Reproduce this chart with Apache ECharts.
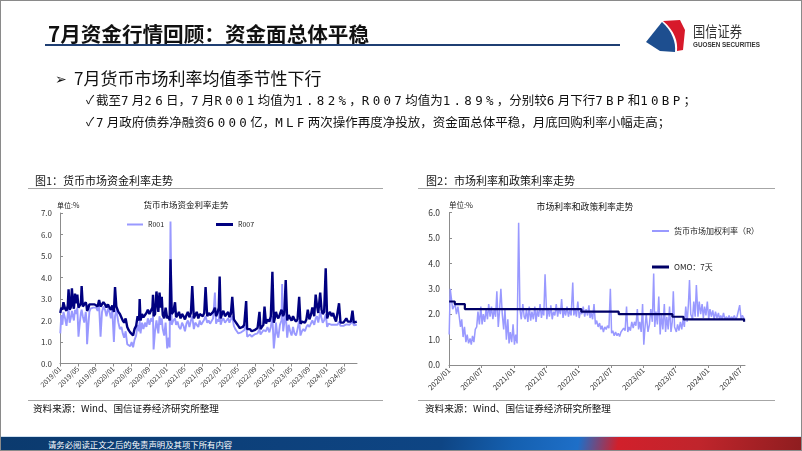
<!DOCTYPE html>
<html><head><meta charset="utf-8">
<script src="https://cdn.jsdelivr.net/npm/echarts@6/dist/echarts.min.js"></script>
<style>
html,body{margin:0;padding:0;background:#fff;}
#slide{position:relative;width:802px;height:451px;overflow:hidden;background:#fff;font-family:"Noto Sans CJK SC",sans-serif;}
#chart{position:absolute;left:0;top:0;width:802px;height:451px;}
.t{position:absolute;white-space:nowrap;color:#111;}
.ck{font-size:12.5px;line-height:15px;}
.m{font-family:"DejaVu Sans Mono",monospace;font-size:12.5px;letter-spacing:3.3px;}
.hl{position:absolute;height:1px;background:#a6a6a6;}
#border{position:absolute;left:0;top:0;width:802px;height:451px;box-sizing:border-box;border:1px solid #8a8a8a;pointer-events:none;}
</style></head>
<body><div id="slide">
<div id="chart"></div>
<div class="t" style="left:48px;top:22px;font-size:20.6px;line-height:22px;font-weight:bold;">7月资金行情回顾：资金面总体平稳</div>
<div style="position:absolute;left:45px;top:44px;width:575px;height:2px;background:#1f3f73;"></div>
<svg style="position:absolute;left:640px;top:15px" width="125" height="42" viewBox="0 0 125 42">
 <path d="M23 6 L40 5 L45 15 L43 35 L37 36 C38 27 35 16 23 6 Z" fill="#d7192a"/>
 <path d="M6 27 L22 7 C32 16 36 27 35 37 L20 36 Z" fill="#1d4e8f"/>
 <text x="53" y="22" font-size="15" textLength="49" lengthAdjust="spacingAndGlyphs" font-family="Noto Sans CJK SC" fill="#333">国信证券</text>
 <text x="53" y="32" font-size="6.5" font-weight="bold" textLength="67" lengthAdjust="spacingAndGlyphs" font-family="Liberation Sans" fill="#333">GUOSEN SECURITIES</text>
</svg>
<div class="t" style="left:55px;top:70px;font-size:14px;line-height:16px;">➢</div>
<div class="t" style="left:74px;top:69px;font-size:17px;line-height:18px;">7月货币市场利率均值季节性下行</div>
<div class="t" style="left:86px;top:92px;font-size:12px;line-height:14px;">✓</div>
<div class="t ck" style="left:96px;top:92px;">截至<span class="m">7</span>月<span class="m">26</span>日，<span class="m">7</span>月<span class="m">R001</span>均值为<span class="m">1.82%</span>，<span class="m">R007</span>均值为<span class="m">1.89%</span>，分别较<span class="m">6</span>月下行<span class="m">7BP</span>和<span class="m">10BP</span>；</div>
<div class="t" style="left:86px;top:114px;font-size:12px;line-height:14px;">✓</div>
<div class="t ck" style="left:96px;top:114px;"><span class="m">7</span>月政府债券净融资<span class="m">6000</span>亿，<span class="m">MLF</span>两次操作再度净投放，资金面总体平稳，月底回购利率小幅走高；</div>
<div class="t" style="left:35px;top:174px;font-size:11px;line-height:13px;">图1：货币市场资金利率走势</div>
<div class="t" style="left:426px;top:174px;font-size:11px;line-height:13px;">图2：市场利率和政策利率走势</div>
<div class="hl" style="left:28px;top:188px;width:355px;"></div>
<div class="hl" style="left:418px;top:188px;width:357px;"></div>
<div class="hl" style="left:28px;top:400px;width:355px;"></div>
<div class="hl" style="left:418px;top:400px;width:357px;"></div>
<div class="t" style="left:33px;top:402px;font-size:9.6px;line-height:12px;">资料来源：Wind、国信证券经济研究所整理</div>
<div class="t" style="left:425px;top:402px;font-size:9.6px;line-height:12px;">资料来源：Wind、国信证券经济研究所整理</div>
<div style="position:absolute;left:0;top:436px;width:802px;height:1px;background:#cfe0f0;"></div>
<div style="position:absolute;left:0;top:437px;width:802px;height:14px;background:linear-gradient(100deg,#0b3a6e 0%,#0e4584 55%,#1560b0 64%,#1e6fc8 72%,#d1202b 77%,#c0252c 87%,#8e1d1f 100%);"></div>
<div class="t" style="left:48px;top:439px;font-size:8.4px;line-height:10px;color:#fff;">请务必阅读正文之后的免责声明及其项下所有内容</div>
<div id="border"></div>
</div>
<script>
// ---------- Figure 1: R001 / R007 ----------
const dates1 = [
'2019/01/03','2019/01/10','2019/01/18','2019/01/25',
'2019/02/05','2019/02/14','2019/02/22','2019/02/27',
'2019/03/06','2019/03/14','2019/03/22','2019/03/29',
'2019/04/05','2019/04/12','2019/04/20','2019/04/28',
'2019/05/06','2019/05/15','2019/05/23','2019/05/28',
'2019/06/05','2019/06/15','2019/06/25','2019/06/30',
'2019/07/04','2019/07/12','2019/07/20','2019/07/28',
'2019/08/05','2019/08/15','2019/08/25',
'2019/09/05','2019/09/15','2019/09/25',
'2019/10/05','2019/10/15','2019/10/25',
'2019/11/05','2019/11/15','2019/11/25',
'2019/12/05','2019/12/15','2019/12/25',
'2020/01/05','2020/01/13','2020/01/22',
'2020/02/05','2020/02/15','2020/02/25',
'2020/03/05','2020/03/15','2020/03/25',
'2020/04/05','2020/04/15','2020/04/25',
'2020/05/05','2020/05/15','2020/05/25',
'2020/06/05','2020/06/15','2020/06/25','2020/06/29',
'2020/07/05','2020/07/15','2020/07/25',
'2020/08/05','2020/08/15','2020/08/25',
'2020/09/05','2020/09/15','2020/09/25','2020/09/29',
'2020/10/03','2020/10/13','2020/10/23',
'2020/11/05','2020/11/13','2020/11/22','2020/11/28',
'2020/12/05','2020/12/15','2020/12/25',
'2021/01/05','2021/01/15','2021/01/22','2021/01/28',
'2021/02/05','2021/02/15','2021/02/26',
'2021/03/05','2021/03/15','2021/03/25',
'2021/04/05','2021/04/15','2021/04/25',
'2021/05/05','2021/05/15','2021/05/25',
'2021/06/05','2021/06/15','2021/06/24',
'2021/07/05','2021/07/15','2021/07/25',
'2021/08/05','2021/08/15','2021/08/25',
'2021/09/05','2021/09/15','2021/09/24',
'2021/10/05','2021/10/15','2021/10/25',
'2021/11/05','2021/11/15','2021/11/27',
'2021/12/05','2021/12/15','2021/12/24','2021/12/30',
'2022/01/06','2022/01/15','2022/01/25',
'2022/02/05','2022/02/15','2022/02/25',
'2022/03/05','2022/03/15','2022/03/25',
'2022/04/05','2022/04/15','2022/04/25',
'2022/05/05','2022/05/15','2022/05/25',
'2022/06/05','2022/06/15','2022/06/28',
'2022/07/05','2022/07/15','2022/07/25',
'2022/08/05','2022/08/15','2022/08/25',
'2022/09/05','2022/09/15','2022/09/28',
'2022/10/05','2022/10/15','2022/10/25',
'2022/11/02','2022/11/12','2022/11/22',
'2022/12/05','2022/12/15','2022/12/26',
'2023/01/05','2023/01/12','2023/01/20','2023/01/28',
'2023/02/05','2023/02/15','2023/02/25','2023/03/01',
'2023/03/08','2023/03/16','2023/03/26',
'2023/04/05','2023/04/15','2023/04/25',
'2023/05/05','2023/05/15','2023/05/25',
'2023/06/05','2023/06/15','2023/06/26',
'2023/07/05','2023/07/15','2023/07/25',
'2023/08/05','2023/08/15','2023/08/25',
'2023/09/05','2023/09/15','2023/09/25',
'2023/10/08','2023/10/18','2023/10/27',
'2023/11/05','2023/11/18','2023/11/27',
'2023/12/05','2023/12/15','2023/12/26',
'2024/01/05','2024/01/15','2024/01/25',
'2024/02/05','2024/02/15','2024/02/25',
'2024/03/05','2024/03/15','2024/03/26',
'2024/04/05','2024/04/15','2024/04/25',
'2024/05/05','2024/05/15','2024/05/25',
'2024/06/05','2024/06/15','2024/06/26',
'2024/07/05','2024/07/15','2024/07/26'
];
const r001 = [
1.40,2.25,1.80,2.40,
2.10,1.75,2.30,2.60,
1.90,2.10,2.45,2.20,
2.00,2.50,2.30,2.60,
1.25,1.90,2.35,2.50,
2.20,1.90,2.40,2.00,
0.90,1.70,2.40,2.55,
2.50,2.60,2.55,
2.60,2.45,2.70,
1.25,2.40,2.65,
2.50,2.20,2.55,
2.40,2.10,2.50,
1.00,2.20,2.50,
1.90,1.60,1.70,
1.40,1.20,1.50,
0.90,0.85,0.80,
1.00,0.75,1.10,
1.30,1.80,1.50,2.00,
1.40,1.90,1.60,
1.90,1.70,2.10,
1.80,2.10,1.95,2.20,
0.65,1.50,2.00,
1.40,2.20,1.80,2.10,
1.60,1.30,1.90,
0.70,1.20,0.75,6.60,
1.80,2.00,2.10,
1.80,1.95,1.70,
1.60,1.90,1.75,
1.50,1.85,2.00,
1.70,2.00,2.20,
1.60,1.90,1.85,
1.70,2.00,1.80,
1.85,2.05,2.20,
1.90,2.00,1.85,
1.90,2.10,3.30,
1.85,2.05,1.95,2.60,
1.80,2.00,2.10,
1.90,2.00,2.10,
1.90,2.05,2.20,
1.75,1.60,1.50,
1.40,1.35,1.45,
1.40,1.55,1.80,
1.25,1.30,1.35,
1.25,1.20,1.35,
1.30,1.40,1.60,
1.35,1.40,1.55,
1.60,1.50,1.70,
1.45,1.70,2.20,
0.70,1.20,1.90,1.40,
1.20,1.80,2.00,3.70,
1.50,1.90,2.30,
1.20,1.80,1.50,
1.30,1.70,1.40,
1.30,1.60,2.00,
1.30,1.50,1.60,
1.50,1.70,1.80,
1.70,1.85,2.00,
1.80,2.10,2.20,
1.90,2.40,2.10,
1.90,2.00,2.30,
1.70,1.85,1.90,
1.80,1.85,1.80,
1.75,1.80,1.95,
1.75,1.80,1.75,
1.78,1.82,1.80,
1.80,1.85,1.95,
1.78,1.80,1.80
];
const r007 = [
2.35,2.60,2.50,2.85,
2.55,2.45,2.70,3.45,
2.50,2.60,3.50,2.75,
2.55,3.25,2.80,3.20,
2.60,2.55,2.80,3.60,
2.65,2.60,2.85,2.70,
2.45,2.55,2.75,2.80,
2.75,2.80,2.75,
2.70,2.65,2.95,
2.65,2.70,2.85,
2.75,2.60,2.75,
2.60,2.50,2.70,
2.40,3.55,2.65,
2.40,2.30,2.25,
2.00,1.90,2.10,
1.70,1.55,1.45,
1.45,1.30,1.60,
1.75,2.20,2.00,3.00,
2.00,2.30,2.15,
2.20,2.35,2.50,
2.30,2.45,2.60,3.20,
2.20,2.30,3.35,
2.40,3.30,2.60,3.10,
2.25,2.10,2.60,
2.10,2.20,2.00,4.85,
2.30,2.40,2.85,
2.15,2.25,2.40,
2.10,2.30,2.20,
2.05,2.25,2.40,
2.15,2.35,3.60,
2.10,2.25,2.40,
2.10,2.30,2.25,
2.20,2.35,3.55,
2.20,2.35,2.25,
2.20,2.40,2.60,
2.20,2.35,2.60,4.05,
2.10,2.30,2.45,
2.20,2.25,2.40,
2.15,2.30,3.10,
2.05,1.95,1.85,
1.75,1.65,1.70,
1.70,1.80,2.90,
1.60,1.55,1.60,
1.50,1.45,1.55,
1.55,1.65,2.40,
1.60,1.70,1.80,
2.65,1.85,2.05,
1.95,2.20,4.27,
1.90,2.10,2.40,2.20,
2.10,2.30,2.50,2.40,
2.20,2.35,3.88,
2.00,2.25,2.10,
2.00,2.20,2.05,
1.95,2.05,3.10,
1.85,1.95,2.00,
1.90,2.05,2.50,
2.05,2.25,2.60,
2.20,3.20,2.70,
2.35,3.30,2.50,
2.30,2.40,4.43,
2.10,2.30,2.40,
2.20,2.35,2.10,
1.95,2.00,2.80,
1.90,1.95,1.90,
1.92,2.10,1.95,
1.90,1.95,2.46,
1.90,1.88,1.95
];
const xLabels1 = ['2019/01','2019/05','2019/09','2020/01','2020/05','2020/09','2021/01','2021/05','2021/09','2022/01','2022/05','2022/09','2023/01','2023/05','2023/09','2024/01','2024/05'];

// ---------- Figure 2: market rate vs OMO ----------
const dates2 = [
'2020/01/02','2020/01/08','2020/01/15','2020/01/22',
'2020/02/05','2020/02/12','2020/02/20','2020/02/27',
'2020/03/05','2020/03/12','2020/03/20','2020/03/28',
'2020/04/05','2020/04/12','2020/04/20','2020/04/28',
'2020/05/05','2020/05/12','2020/05/20','2020/05/28',
'2020/06/05','2020/06/12','2020/06/20','2020/06/28',
'2020/07/05','2020/07/12','2020/07/20','2020/07/28',
'2020/08/05','2020/08/12','2020/08/20','2020/08/28',
'2020/09/05','2020/09/12','2020/09/20','2020/09/27',
'2020/10/05','2020/10/12','2020/10/20','2020/10/28',
'2020/11/05','2020/11/12','2020/11/20','2020/11/28',
'2020/12/05','2020/12/12','2020/12/20','2020/12/28',
'2021/01/05','2021/01/12','2021/01/20','2021/01/29',
'2021/02/05','2021/02/12','2021/02/20','2021/02/27',
'2021/03/05','2021/03/12','2021/03/20','2021/03/28',
'2021/04/05','2021/04/12','2021/04/20','2021/04/28',
'2021/05/05','2021/05/12','2021/05/20','2021/05/28',
'2021/06/05','2021/06/12','2021/06/18','2021/06/25',
'2021/07/05','2021/07/12','2021/07/20','2021/07/28',
'2021/08/05','2021/08/12','2021/08/20','2021/08/28',
'2021/09/05','2021/09/12','2021/09/20','2021/09/27',
'2021/10/05','2021/10/12','2021/10/20','2021/10/28',
'2021/11/05','2021/11/12','2021/11/20','2021/11/29',
'2021/12/05','2021/12/12','2021/12/20','2021/12/28',
'2022/01/05','2022/01/12','2022/01/20','2022/01/28',
'2022/02/05','2022/02/12','2022/02/20','2022/02/27',
'2022/03/05','2022/03/12','2022/03/20','2022/03/28',
'2022/04/05','2022/04/12','2022/04/20','2022/04/28',
'2022/05/05','2022/05/12','2022/05/20','2022/05/28',
'2022/06/05','2022/06/12','2022/06/20','2022/06/28',
'2022/07/05','2022/07/12','2022/07/20','2022/07/28',
'2022/08/05','2022/08/12','2022/08/20','2022/08/28',
'2022/09/05','2022/09/12','2022/09/20','2022/09/28',
'2022/10/05','2022/10/12','2022/10/20','2022/10/28',
'2022/11/05','2022/11/12','2022/11/20','2022/11/28',
'2022/12/05','2022/12/12','2022/12/20','2022/12/28',
'2023/01/04','2023/01/10','2023/01/18','2023/01/28',
'2023/02/05','2023/02/12','2023/02/20','2023/02/27',
'2023/03/05','2023/03/12','2023/03/20','2023/03/28',
'2023/04/05','2023/04/12','2023/04/20','2023/04/28',
'2023/05/05','2023/05/12','2023/05/20','2023/05/28',
'2023/06/05','2023/06/12','2023/06/18','2023/06/25',
'2023/07/05','2023/07/12','2023/07/20','2023/07/28',
'2023/08/05','2023/08/12','2023/08/20','2023/08/28',
'2023/09/05','2023/09/12','2023/09/18','2023/09/25',
'2023/10/05','2023/10/12','2023/10/20','2023/10/27',
'2023/11/05','2023/11/12','2023/11/20','2023/11/28',
'2023/12/05','2023/12/12','2023/12/20','2023/12/28',
'2024/01/05','2024/01/12','2024/01/20','2024/01/28',
'2024/02/05','2024/02/12','2024/02/20','2024/02/28',
'2024/03/05','2024/03/12','2024/03/20','2024/03/28',
'2024/04/05','2024/04/12','2024/04/20','2024/04/28',
'2024/05/05','2024/05/12','2024/05/20','2024/05/28',
'2024/06/05','2024/06/12','2024/06/20','2024/06/27',
'2024/07/05','2024/07/12','2024/07/20','2024/07/26'
];
const marketRate = [
1.20,3.00,2.60,2.20,
2.40,2.00,2.30,1.90,
1.50,1.80,1.10,1.50,
0.90,1.20,0.85,1.05,
0.80,1.15,0.90,1.40,
1.50,2.10,1.60,2.30,
1.60,2.00,1.70,2.20,
1.80,2.40,1.90,2.30,
1.80,2.20,1.90,2.90,
1.50,2.10,3.00,2.00,
1.40,2.20,1.00,1.80,
0.85,1.30,0.90,1.60,
0.80,1.20,0.85,5.60,
2.20,1.80,2.40,1.90,
1.80,2.20,1.70,2.30,
1.75,2.10,1.80,2.30,
1.70,2.15,1.90,2.40,
1.85,2.20,1.95,3.57,
1.80,2.25,1.90,2.35,
1.80,2.10,1.95,2.40,
1.90,2.25,2.00,2.60,
1.85,2.20,1.95,2.30,
1.90,2.15,1.95,3.25,
1.95,2.20,1.90,2.50,
1.85,2.10,2.00,2.30,
1.90,2.20,1.95,2.35,
1.85,2.05,1.80,2.40,
1.60,1.75,1.50,1.65,
1.40,1.55,1.30,1.50,
1.40,1.55,1.45,3.00,
1.25,1.35,1.15,1.30,
1.15,1.25,1.12,1.30,
1.25,1.45,1.35,2.30,
1.30,1.50,1.35,1.70,
1.45,1.70,1.55,2.20,
1.40,1.70,1.30,2.40,
0.80,1.40,2.00,1.30,
1.60,2.20,1.70,3.60,
1.50,2.10,1.60,2.70,
1.20,2.00,1.40,2.40,
1.30,1.90,1.40,2.30,
1.30,1.70,2.90,1.50,
1.30,1.60,1.35,1.70,
1.40,1.80,1.50,2.30,
1.70,2.40,3.35,2.00,
1.80,2.50,1.90,3.15,
1.90,2.50,2.00,2.40,
1.85,2.30,1.95,2.50,
1.80,2.20,1.90,2.15,
1.80,2.10,1.85,2.05,
1.80,1.95,1.80,2.05,
1.78,1.90,1.80,1.95,
1.78,1.90,1.82,1.95,
1.80,1.90,1.85,2.36,
1.80,1.95,1.85,1.80
];
const omoDates = ['2020/01/02','2020/02/03','2020/03/30','2022/01/17','2022/08/15','2023/06/13','2023/08/15','2024/07/22','2024/07/26'];
const omoValues = [2.50,2.40,2.20,2.10,2.00,1.90,1.80,1.70,1.70];
const xLabels2 = ['2020/01','2020/07','2021/01','2021/07','2022/01','2022/07','2023/01','2023/07','2024/01','2024/07'];

// ---------- helpers ----------
function monthsSince(s, baseYear){
  const p = s.split('/').map(Number);
  const dim = new Date(p[0], p[1], 0).getDate();
  return (p[0]-baseYear)*12 + (p[1]-1) + (p[2]-1)/dim;
}
function pairs(dates, vals, baseYear){
  const n = Math.min(dates.length, vals.length);
  const out = [];
  for (let i=0;i<n;i++) out.push([monthsSince(dates[i], baseYear), vals[i]]);
  return out;
}

const FONT = '"Noto Sans CJK SC", sans-serif';
const axisGray = '#8c8c8c';
const chart = echarts.init(document.getElementById('chart'), null, {renderer:'canvas'});
const option = {
  animation:false,
  textStyle:{fontFamily:FONT},
  grid:[
    {left:60, top:213, width:297, height:150.5, containLabel:false},
    {left:449, top:212.6, width:296, height:152.4, containLabel:false}
  ],
  xAxis:[
    {gridIndex:0, type:'value', min:0, max:66.85, interval:4,
     axisLine:{lineStyle:{color:axisGray}}, axisTick:{length:3, lineStyle:{color:axisGray}},
     splitLine:{show:false},
     axisLabel:{rotate:45, fontSize:7, color:'#333', margin:4, showMaxLabel:false,
       formatter:v=>{const k=Math.round(v/4); return Math.abs(v-4*k)<1e-6 && k<xLabels1.length ? xLabels1[k] : '';}}},
    {gridIndex:1, type:'value', min:0, max:54.85, interval:6,
     axisLine:{lineStyle:{color:axisGray}}, axisTick:{length:3, lineStyle:{color:axisGray}},
     splitLine:{show:false},
     axisLabel:{rotate:45, fontSize:7.5, color:'#333', margin:4, showMaxLabel:false,
       formatter:v=>{const k=Math.round(v/6); return Math.abs(v-6*k)<1e-6 && k<xLabels2.length ? xLabels2[k] : '';}}}
  ],
  yAxis:[
    {gridIndex:0, type:'value', min:0, max:7, interval:1,
     axisLine:{show:true, lineStyle:{color:axisGray}}, axisTick:{show:true, inside:true, length:3, lineStyle:{color:axisGray}},
     splitLine:{show:false},
     axisLabel:{fontSize:8, color:'#333', margin:8, formatter:v=>v.toFixed(1)}},
    {gridIndex:1, type:'value', min:0, max:6, interval:1,
     axisLine:{show:true, lineStyle:{color:axisGray}}, axisTick:{show:true, inside:true, length:3, lineStyle:{color:axisGray}},
     splitLine:{show:false},
     axisLabel:{fontSize:8.5, color:'#333', margin:9, formatter:v=>v.toFixed(1)}}
  ],
  legend:[
    {data:['R001'], left:122, top:216, icon:'rect', itemWidth:16, itemHeight:2, itemGap:4, textStyle:{fontSize:7, color:'#222'}},
    {data:['R007'], left:211, top:216, icon:'rect', itemWidth:17, itemHeight:3, itemGap:4, textStyle:{fontSize:7, color:'#222'}},
    {data:['货币市场加权利率（R）'], left:647, top:222, icon:'rect', itemWidth:17, itemHeight:2, textStyle:{fontSize:8, color:'#222'}},
    {data:['OMO：7天'], left:647, top:258, icon:'rect', itemWidth:17, itemHeight:3, textStyle:{fontSize:8, color:'#222'}}
  ],
  graphic:[
    {type:'text', x:186, y:205, style:{text:'货币市场资金利率走势', align:'center', verticalAlign:'middle', fontSize:8.5, fill:'#111', fontFamily:FONT}},
    {type:'text', x:57, y:205, style:{text:'单位:%', align:'left', verticalAlign:'middle', fontSize:7, fill:'#222', fontFamily:FONT}},
    {type:'text', x:585, y:206.5, style:{text:'市场利率和政策利率走势', align:'center', verticalAlign:'middle', fontSize:8.8, fill:'#111', fontFamily:FONT}},
    {type:'text', x:449, y:205, style:{text:'单位:%', align:'left', verticalAlign:'middle', fontSize:7.5, fill:'#222', fontFamily:FONT}}
  ],
  series:[
    {name:'R001', type:'line', xAxisIndex:0, yAxisIndex:0, showSymbol:false, symbol:'none',
     lineStyle:{color:'#9999ff', width:1.9}, itemStyle:{color:'#9999ff'}, data:pairs(dates1, r001, 2019)},
    {name:'R007', type:'line', xAxisIndex:0, yAxisIndex:0, showSymbol:false, symbol:'none',
     lineStyle:{color:'#000080', width:2.4}, itemStyle:{color:'#000080'}, data:pairs(dates1, r007, 2019)},
    {name:'货币市场加权利率（R）', type:'line', xAxisIndex:1, yAxisIndex:1, showSymbol:false, symbol:'none',
     lineStyle:{color:'#9999ff', width:1.5}, itemStyle:{color:'#9999ff'}, data:pairs(dates2, marketRate, 2020)},
    {name:'OMO：7天', type:'line', step:'end', xAxisIndex:1, yAxisIndex:1, showSymbol:false, symbol:'none',
     lineStyle:{color:'#000066', width:2.2}, itemStyle:{color:'#000066'}, data:pairs(omoDates, omoValues, 2020)}
  ]
};
chart.setOption(option);
</script>
</body></html>
